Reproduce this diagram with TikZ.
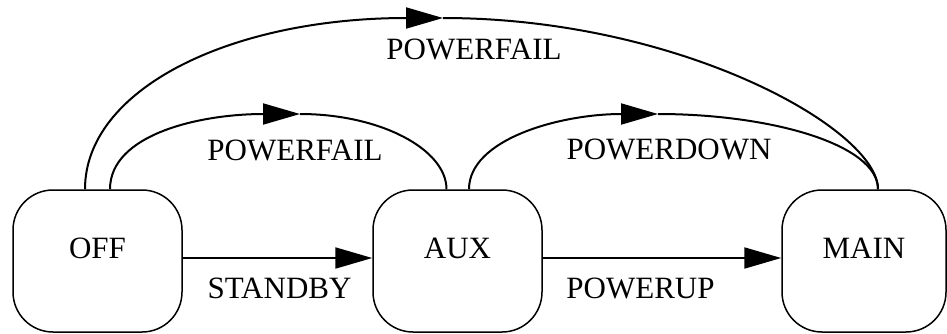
\documentclass[tikz,border=0pt]{standalone}
\usepackage{fontspec}
\setmainfont{Liberation Serif}
\usetikzlibrary{arrows.meta}

\tikzset{
  state/.style={draw, rounded corners=40pt, line width=1.5pt,
    minimum width=169pt, minimum height=142pt, text depth=26pt},
  trans/.style={line width=2pt},
  arr/.style={-{Triangle[length=37pt,width=21pt]}}
}

\begin{document}
\begin{tikzpicture}[x=1pt, y=-1pt, every node/.style={font=\fontsize{31}{37}\selectfont}]
\useasboundingbox (0,0) rectangle (947,333);

\node (off) at (97.5,261) [state] {OFF};
\node (aux) at (457.5,261) [state] {AUX};
\node (main) at (864,261) [state, minimum width=164pt] {MAIN};

\coordinate (pfLow) at (300,114);
\coordinate (pfHigh) at (443,18);
\coordinate (pdown) at (658,114);

% straight transitions
\draw[trans, arr] ([yshift=3pt]off.east) -- ([yshift=3pt]aux.west);
\draw[trans, arr] ([yshift=3pt]aux.east) -- ([yshift=3pt]main.west);

% arcs over the top
\draw[trans, arr] ([xshift=12.5pt]off.north) .. controls +(0,-55) and +(-100,0) .. (pfLow);
\draw[trans] (pfLow) .. controls +(80,0) and +(0,-40) .. ([xshift=-11pt]aux.north);

\draw[trans, arr] ([xshift=-12.5pt]off.north) .. controls +(0,-100) and +(-213,0) .. (pfHigh);
\draw[trans] (pfHigh) .. controls +(237,0) and +(0,-60) .. ([xshift=14pt]main.north);

\draw[trans, arr] ([xshift=11.5pt]aux.north) .. controls +(0,-50) and +(-98,0) .. (pdown);
\draw[trans] (pdown) .. controls +(112,0) and +(0,-45) .. ([xshift=14pt]main.north);

\node (lblStandby) at (279.5,288) {STANDBY};
\node (lblPowerup) at (640.5,288) {POWERUP};
\node (lblFailLow) at (295,150) {POWERFAIL};
\node (lblFailHigh) at (474,49) {POWERFAIL};
\node (lblPowerdown) at (669,149) {POWERDOWN};
\end{tikzpicture}
\end{document}
